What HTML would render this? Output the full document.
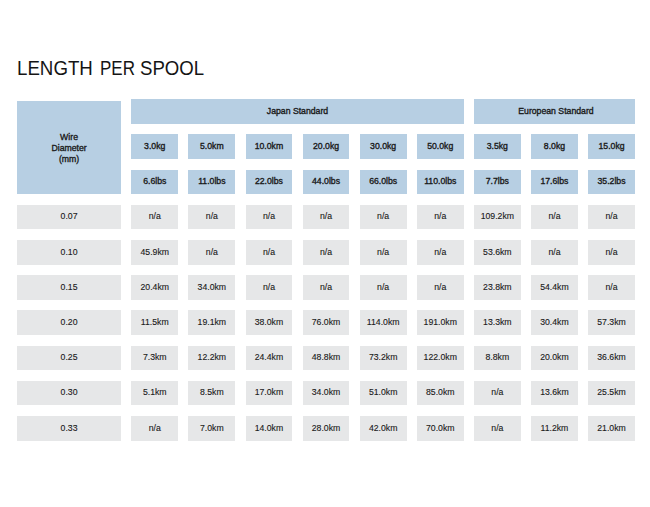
<!DOCTYPE html>
<html><head><meta charset="utf-8"><title>Length per spool</title>
<style>
html,body{margin:0;padding:0;background:#fff;}
body{width:650px;height:507px;position:relative;overflow:hidden;font-family:"Liberation Sans",sans-serif;color:#1a1a1a;}
.t{position:absolute;top:56px;margin:0;font-size:20px;font-weight:normal;line-height:24px;color:#151515;white-space:nowrap;transform-origin:0 0;}
.c{position:absolute;display:flex;align-items:center;justify-content:center;text-align:center;font-size:8.7px;line-height:11px;white-space:nowrap;}
.c span{position:relative;top:-0.2px;-webkit-text-stroke:0.12px #1a1a1a;}
.b{background:#b7cfe3;}
.g{background:#e6e7e8;}
.h span{-webkit-text-stroke:0.35px #1a1a1a;}
.w span{top:1.4px;}
.e span{left:1.5px;}
</style></head><body>
<div class="t" style="left:16.6px;transform:scaleX(0.935)">LENGTH</div>
<div class="t" style="left:99.8px;transform:scaleX(0.85)">PER</div>
<div class="t" style="left:139.6px;transform:scaleX(0.931)">SPOOL</div>
<div class="c b h w" style="left:17.00px;top:100.60px;width:104.10px;height:93.20px;"><span>Wire<br>Diameter<br>(mm)</span></div>
<div class="c b h" style="left:131.30px;top:99.15px;width:332.40px;height:24.50px;"><span>Japan Standard</span></div>
<div class="c b h e" style="left:473.90px;top:99.15px;width:161.10px;height:24.50px;"><span>European Standard</span></div>
<div class="c b h" style="left:131.30px;top:134.35px;width:46.90px;height:24.20px;"><span>3.0kg</span></div>
<div class="c b h" style="left:131.30px;top:169.55px;width:46.90px;height:24.20px;"><span>6.6lbs</span></div>
<div class="c b h" style="left:188.40px;top:134.35px;width:46.90px;height:24.20px;"><span>5.0km</span></div>
<div class="c b h" style="left:188.40px;top:169.55px;width:46.90px;height:24.20px;"><span>11.0lbs</span></div>
<div class="c b h" style="left:245.50px;top:134.35px;width:46.90px;height:24.20px;"><span>10.0km</span></div>
<div class="c b h" style="left:245.50px;top:169.55px;width:46.90px;height:24.20px;"><span>22.0lbs</span></div>
<div class="c b h" style="left:302.60px;top:134.35px;width:46.90px;height:24.20px;"><span>20.0kg</span></div>
<div class="c b h" style="left:302.60px;top:169.55px;width:46.90px;height:24.20px;"><span>44.0lbs</span></div>
<div class="c b h" style="left:359.70px;top:134.35px;width:46.90px;height:24.20px;"><span>30.0kg</span></div>
<div class="c b h" style="left:359.70px;top:169.55px;width:46.90px;height:24.20px;"><span>66.0lbs</span></div>
<div class="c b h" style="left:416.80px;top:134.35px;width:46.90px;height:24.20px;"><span>50.0kg</span></div>
<div class="c b h" style="left:416.80px;top:169.55px;width:46.90px;height:24.20px;"><span>110.0lbs</span></div>
<div class="c b h" style="left:473.90px;top:134.35px;width:46.90px;height:24.20px;"><span>3.5kg</span></div>
<div class="c b h" style="left:473.90px;top:169.55px;width:46.90px;height:24.20px;"><span>7.7lbs</span></div>
<div class="c b h" style="left:531.00px;top:134.35px;width:46.90px;height:24.20px;"><span>8.0kg</span></div>
<div class="c b h" style="left:531.00px;top:169.55px;width:46.90px;height:24.20px;"><span>17.6lbs</span></div>
<div class="c b h" style="left:588.10px;top:134.35px;width:46.90px;height:24.20px;"><span>15.0kg</span></div>
<div class="c b h" style="left:588.10px;top:169.55px;width:46.90px;height:24.20px;"><span>35.2lbs</span></div>
<div class="c g" style="left:17.00px;top:204.75px;width:104.10px;height:24.70px;"><span>0.07</span></div>
<div class="c g" style="left:131.30px;top:204.75px;width:46.90px;height:24.70px;"><span>n/a</span></div>
<div class="c g" style="left:188.40px;top:204.75px;width:46.90px;height:24.70px;"><span>n/a</span></div>
<div class="c g" style="left:245.50px;top:204.75px;width:46.90px;height:24.70px;"><span>n/a</span></div>
<div class="c g" style="left:302.60px;top:204.75px;width:46.90px;height:24.70px;"><span>n/a</span></div>
<div class="c g" style="left:359.70px;top:204.75px;width:46.90px;height:24.70px;"><span>n/a</span></div>
<div class="c g" style="left:416.80px;top:204.75px;width:46.90px;height:24.70px;"><span>n/a</span></div>
<div class="c g" style="left:473.90px;top:204.75px;width:46.90px;height:24.70px;"><span>109.2km</span></div>
<div class="c g" style="left:531.00px;top:204.75px;width:46.90px;height:24.70px;"><span>n/a</span></div>
<div class="c g" style="left:588.10px;top:204.75px;width:46.90px;height:24.70px;"><span>n/a</span></div>
<div class="c g" style="left:17.00px;top:239.95px;width:104.10px;height:24.70px;"><span>0.10</span></div>
<div class="c g" style="left:131.30px;top:239.95px;width:46.90px;height:24.70px;"><span>45.9km</span></div>
<div class="c g" style="left:188.40px;top:239.95px;width:46.90px;height:24.70px;"><span>n/a</span></div>
<div class="c g" style="left:245.50px;top:239.95px;width:46.90px;height:24.70px;"><span>n/a</span></div>
<div class="c g" style="left:302.60px;top:239.95px;width:46.90px;height:24.70px;"><span>n/a</span></div>
<div class="c g" style="left:359.70px;top:239.95px;width:46.90px;height:24.70px;"><span>n/a</span></div>
<div class="c g" style="left:416.80px;top:239.95px;width:46.90px;height:24.70px;"><span>n/a</span></div>
<div class="c g" style="left:473.90px;top:239.95px;width:46.90px;height:24.70px;"><span>53.6km</span></div>
<div class="c g" style="left:531.00px;top:239.95px;width:46.90px;height:24.70px;"><span>n/a</span></div>
<div class="c g" style="left:588.10px;top:239.95px;width:46.90px;height:24.70px;"><span>n/a</span></div>
<div class="c g" style="left:17.00px;top:275.15px;width:104.10px;height:24.70px;"><span>0.15</span></div>
<div class="c g" style="left:131.30px;top:275.15px;width:46.90px;height:24.70px;"><span>20.4km</span></div>
<div class="c g" style="left:188.40px;top:275.15px;width:46.90px;height:24.70px;"><span>34.0km</span></div>
<div class="c g" style="left:245.50px;top:275.15px;width:46.90px;height:24.70px;"><span>n/a</span></div>
<div class="c g" style="left:302.60px;top:275.15px;width:46.90px;height:24.70px;"><span>n/a</span></div>
<div class="c g" style="left:359.70px;top:275.15px;width:46.90px;height:24.70px;"><span>n/a</span></div>
<div class="c g" style="left:416.80px;top:275.15px;width:46.90px;height:24.70px;"><span>n/a</span></div>
<div class="c g" style="left:473.90px;top:275.15px;width:46.90px;height:24.70px;"><span>23.8km</span></div>
<div class="c g" style="left:531.00px;top:275.15px;width:46.90px;height:24.70px;"><span>54.4km</span></div>
<div class="c g" style="left:588.10px;top:275.15px;width:46.90px;height:24.70px;"><span>n/a</span></div>
<div class="c g" style="left:17.00px;top:310.35px;width:104.10px;height:24.70px;"><span>0.20</span></div>
<div class="c g" style="left:131.30px;top:310.35px;width:46.90px;height:24.70px;"><span>11.5km</span></div>
<div class="c g" style="left:188.40px;top:310.35px;width:46.90px;height:24.70px;"><span>19.1km</span></div>
<div class="c g" style="left:245.50px;top:310.35px;width:46.90px;height:24.70px;"><span>38.0km</span></div>
<div class="c g" style="left:302.60px;top:310.35px;width:46.90px;height:24.70px;"><span>76.0km</span></div>
<div class="c g" style="left:359.70px;top:310.35px;width:46.90px;height:24.70px;"><span>114.0km</span></div>
<div class="c g" style="left:416.80px;top:310.35px;width:46.90px;height:24.70px;"><span>191.0km</span></div>
<div class="c g" style="left:473.90px;top:310.35px;width:46.90px;height:24.70px;"><span>13.3km</span></div>
<div class="c g" style="left:531.00px;top:310.35px;width:46.90px;height:24.70px;"><span>30.4km</span></div>
<div class="c g" style="left:588.10px;top:310.35px;width:46.90px;height:24.70px;"><span>57.3km</span></div>
<div class="c g" style="left:17.00px;top:345.55px;width:104.10px;height:24.70px;"><span>0.25</span></div>
<div class="c g" style="left:131.30px;top:345.55px;width:46.90px;height:24.70px;"><span>7.3km</span></div>
<div class="c g" style="left:188.40px;top:345.55px;width:46.90px;height:24.70px;"><span>12.2km</span></div>
<div class="c g" style="left:245.50px;top:345.55px;width:46.90px;height:24.70px;"><span>24.4km</span></div>
<div class="c g" style="left:302.60px;top:345.55px;width:46.90px;height:24.70px;"><span>48.8km</span></div>
<div class="c g" style="left:359.70px;top:345.55px;width:46.90px;height:24.70px;"><span>73.2km</span></div>
<div class="c g" style="left:416.80px;top:345.55px;width:46.90px;height:24.70px;"><span>122.0km</span></div>
<div class="c g" style="left:473.90px;top:345.55px;width:46.90px;height:24.70px;"><span>8.8km</span></div>
<div class="c g" style="left:531.00px;top:345.55px;width:46.90px;height:24.70px;"><span>20.0km</span></div>
<div class="c g" style="left:588.10px;top:345.55px;width:46.90px;height:24.70px;"><span>36.6km</span></div>
<div class="c g" style="left:17.00px;top:380.75px;width:104.10px;height:24.70px;"><span>0.30</span></div>
<div class="c g" style="left:131.30px;top:380.75px;width:46.90px;height:24.70px;"><span>5.1km</span></div>
<div class="c g" style="left:188.40px;top:380.75px;width:46.90px;height:24.70px;"><span>8.5km</span></div>
<div class="c g" style="left:245.50px;top:380.75px;width:46.90px;height:24.70px;"><span>17.0km</span></div>
<div class="c g" style="left:302.60px;top:380.75px;width:46.90px;height:24.70px;"><span>34.0km</span></div>
<div class="c g" style="left:359.70px;top:380.75px;width:46.90px;height:24.70px;"><span>51.0km</span></div>
<div class="c g" style="left:416.80px;top:380.75px;width:46.90px;height:24.70px;"><span>85.0km</span></div>
<div class="c g" style="left:473.90px;top:380.75px;width:46.90px;height:24.70px;"><span>n/a</span></div>
<div class="c g" style="left:531.00px;top:380.75px;width:46.90px;height:24.70px;"><span>13.6km</span></div>
<div class="c g" style="left:588.10px;top:380.75px;width:46.90px;height:24.70px;"><span>25.5km</span></div>
<div class="c g" style="left:17.00px;top:415.95px;width:104.10px;height:24.70px;"><span>0.33</span></div>
<div class="c g" style="left:131.30px;top:415.95px;width:46.90px;height:24.70px;"><span>n/a</span></div>
<div class="c g" style="left:188.40px;top:415.95px;width:46.90px;height:24.70px;"><span>7.0km</span></div>
<div class="c g" style="left:245.50px;top:415.95px;width:46.90px;height:24.70px;"><span>14.0km</span></div>
<div class="c g" style="left:302.60px;top:415.95px;width:46.90px;height:24.70px;"><span>28.0km</span></div>
<div class="c g" style="left:359.70px;top:415.95px;width:46.90px;height:24.70px;"><span>42.0km</span></div>
<div class="c g" style="left:416.80px;top:415.95px;width:46.90px;height:24.70px;"><span>70.0km</span></div>
<div class="c g" style="left:473.90px;top:415.95px;width:46.90px;height:24.70px;"><span>n/a</span></div>
<div class="c g" style="left:531.00px;top:415.95px;width:46.90px;height:24.70px;"><span>11.2km</span></div>
<div class="c g" style="left:588.10px;top:415.95px;width:46.90px;height:24.70px;"><span>21.0km</span></div>
</body></html>
